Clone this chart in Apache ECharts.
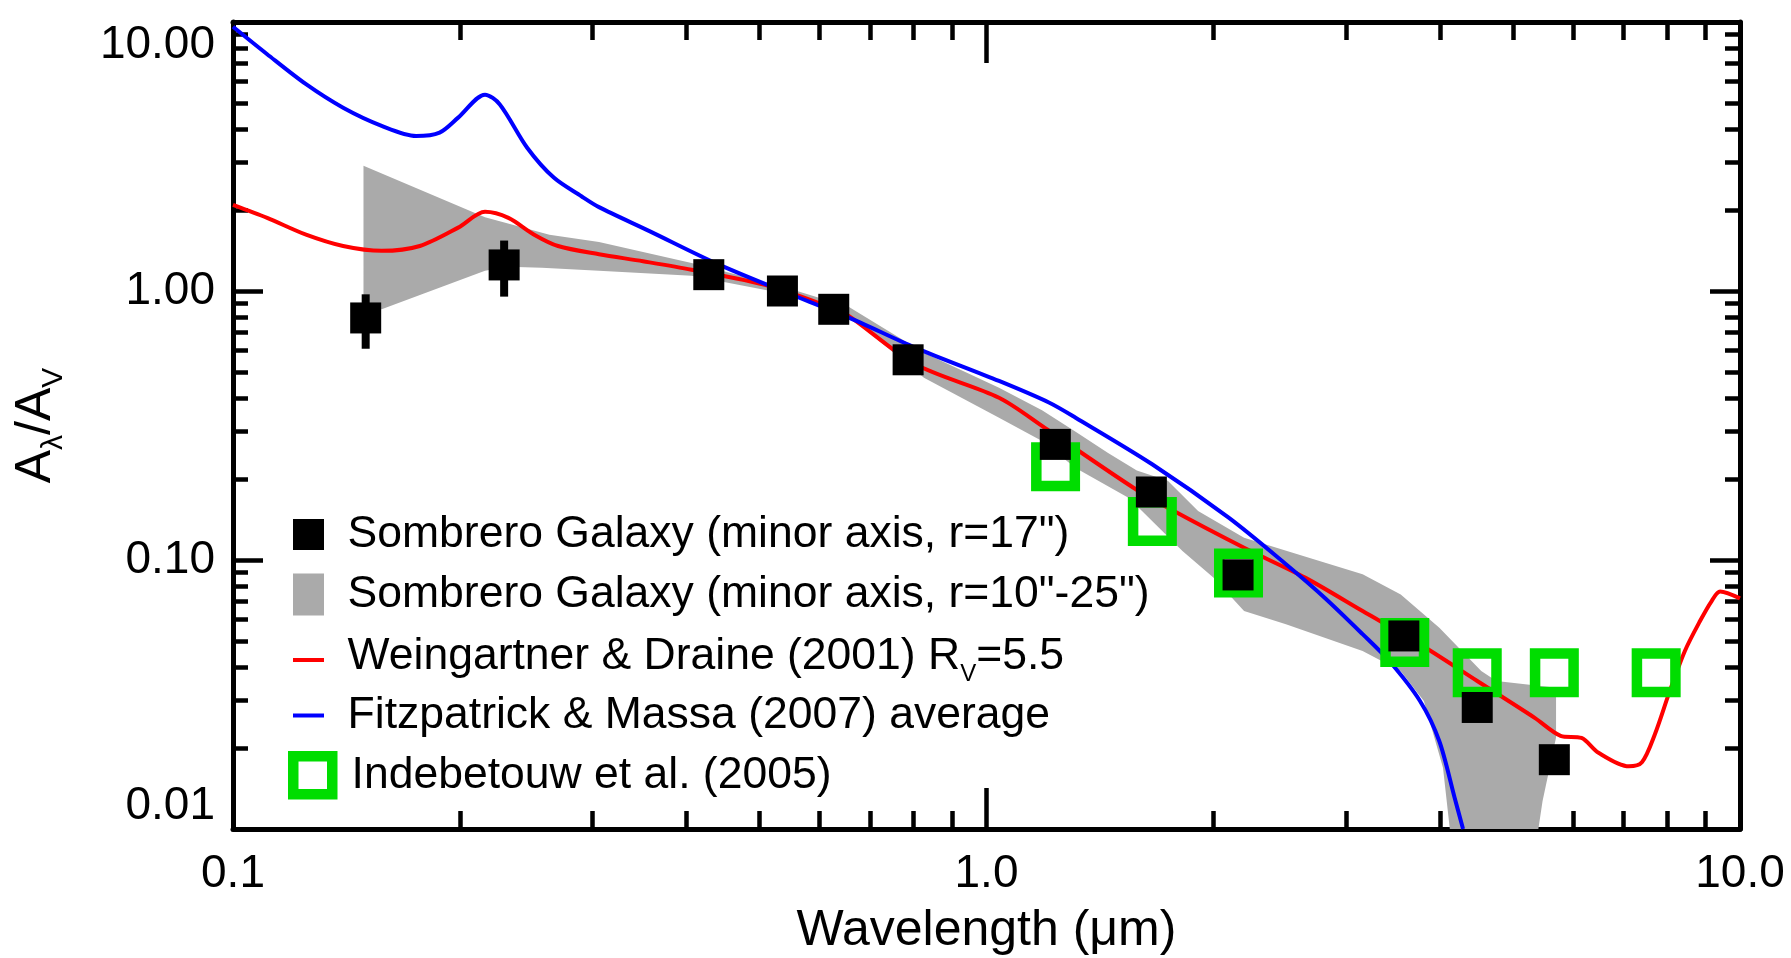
<!DOCTYPE html>
<html>
<head>
<meta charset="utf-8">
<title>Sombrero extinction curve</title>
<script src="https://cdn.jsdelivr.net/npm/echarts@6/dist/echarts.min.js"></script>
<style>
  html, body { margin: 0; padding: 0; background: #fff; }
  #chart { width: 1791px; height: 958px; }
</style>
</head>
<body>
<div id="chart"></div>
<script>
// values: wavelength (um) -> A_lambda / A_V

// Sombrero Galaxy, minor axis r=17"
var sombreroX = [0.15, 0.229, 0.428, 0.536, 0.627, 0.787, 1.234, 1.655, 2.157, 3.58, 4.48, 5.67];
var sombreroY = [0.794, 1.25, 1.15, 1.00, 0.855, 0.555, 0.269, 0.179, 0.088, 0.0522, 0.0283, 0.0181];

// error bars on the two UV points
var errX = [0.15, 0.229];
var errLow = [0.61, 0.953];
var errHigh = [0.972, 1.54];

// Indebetouw et al. (2005)
var indebX = [1.235, 1.66, 2.16, 3.59, 4.48, 5.67, 7.74];
var indebY = [0.222, 0.139, 0.0895, 0.0493, 0.0381, 0.0381, 0.0381];

// Weingartner & Draine (2001) Rv=5.5
var wdX = [0.1, 0.111, 0.125, 0.14, 0.1575, 0.177, 0.199, 0.216, 0.232, 0.251, 0.27, 0.306, 0.35, 0.406,
  0.514, 0.627, 0.657, 0.805, 1.039, 1.195, 1.565, 1.758, 2.197, 2.647, 3.156, 3.761, 4.48, 5.34, 5.78,
  6.16, 6.49, 7.12, 7.41, 7.71, 8.07, 8.45, 8.85, 9.17, 9.41, 10.0];
var wdY = [2.09, 1.87, 1.62, 1.47, 1.41, 1.47, 1.72, 1.97, 1.87, 1.62, 1.47, 1.37, 1.29, 1.20,
  1.045, 0.86, 0.807, 0.534, 0.401, 0.31, 0.186, 0.154, 0.111, 0.086, 0.0646, 0.0486, 0.0355, 0.0259, 0.0222,
  0.0218, 0.0192, 0.0171, 0.0177, 0.0225, 0.0326, 0.0459, 0.0593, 0.0704, 0.0764, 0.072];

// Fitzpatrick & Massa (2007) average
var fmX = [0.1, 0.111, 0.125, 0.14, 0.1575, 0.175, 0.188, 0.199, 0.216, 0.226, 0.2457, 0.2665, 0.29, 0.306,
  0.357, 0.437, 0.536, 0.657, 0.805, 1.039, 1.21, 1.313, 1.659, 2.096, 2.497, 2.81, 3.156, 3.424, 3.761,
  3.99, 4.18, 4.29];
var fmY = [9.6, 7.59, 5.87, 4.80, 4.11, 3.77, 3.88, 4.41, 5.37, 4.94, 3.41, 2.64, 2.25, 2.05,
  1.67, 1.27, 1.0, 0.796, 0.615, 0.463, 0.385, 0.338, 0.227, 0.1436, 0.0964, 0.0724, 0.053, 0.0421, 0.0299,
  0.0212, 0.0131, 0.01];

// Sombrero Galaxy, minor axis r=10"-25" (shaded range)
var bandUpperX = [0.149, 0.216, 0.263, 0.306, 0.406, 0.43, 0.536, 0.657, 0.826, 1.039, 1.185, 1.313, 1.45,
  1.583, 1.74, 1.909, 2.197, 2.587, 3.156, 3.546, 3.99, 4.535, 4.75, 5.70, 5.70, 5.47, 5.40];
var bandUpperY = [2.92, 1.88, 1.62, 1.52, 1.27, 1.22, 1.04, 0.872, 0.59, 0.437, 0.36, 0.30, 0.25,
  0.215, 0.197, 0.152, 0.121, 0.105, 0.0885, 0.0745, 0.056, 0.0387, 0.0355, 0.0335, 0.0219, 0.0127, 0.01];
var bandLowerX = [0.149, 0.1575, 0.216, 0.232, 0.257, 0.306, 0.406, 0.536, 0.657, 0.826, 1.039, 1.185, 1.313,
  1.545, 1.82, 2.0, 2.197, 2.497, 3.156, 3.546, 3.806, 4.035, 4.12];
var bandLowerY = [0.88, 0.855, 1.19, 1.23, 1.22, 1.19, 1.14, 0.98, 0.807, 0.476, 0.338, 0.277, 0.220,
  0.17, 0.108, 0.086, 0.0646, 0.0577, 0.0459, 0.0387, 0.0299, 0.0169, 0.01];

// tick values
var xMajorTicks = [0.1, 1, 10];
var xMinorTicks = [0.2, 0.3, 0.4, 0.5, 0.6, 0.7, 0.8, 0.9, 2, 3, 4, 5, 6, 7, 8, 9];
var yMajorTicks = [0.01, 0.1, 1, 10];
var yMinorTicks = [0.02, 0.03, 0.04, 0.05, 0.06, 0.07, 0.08, 0.09,
  0.2, 0.3, 0.4, 0.5, 0.6, 0.7, 0.8, 0.9, 2, 3, 4, 5, 6, 7, 8, 9];

var nameSquares = 'Sombrero Galaxy (minor axis, r=17")';
var nameBand = 'Sombrero Galaxy (minor axis, r=10"-25")';
var nameWD = 'Weingartner & Draine (2001) RV=5.5';
var nameFM = 'Fitzpatrick & Massa (2007) average';
var nameIndeb = 'Indebetouw et al. (2005)';

function zip(xs, ys) {
  return xs.map(function (x, i) { return [x, ys[i]]; });
}

var bandPoly = zip(bandUpperX, bandUpperY).concat(zip(bandLowerX, bandLowerY).reverse());

var FONT = 'Liberation Sans';
var chartDom = document.getElementById('chart');
var myChart = echarts.init(chartDom, null, { renderer: 'canvas' });

function xAxis(gridIndex, position, ticks, len, withLabels) {
  return {
    type: 'log', logBase: 10, min: 0.1, max: 10,
    gridIndex: gridIndex, position: position,
    name: withLabels ? 'Wavelength (μm)' : '',
    nameLocation: 'middle', nameGap: 77,
    nameTextStyle: { fontSize: 50, color: '#000', fontFamily: FONT },
    axisLine: { show: gridIndex === 0, onZero: false, lineStyle: { color: '#000', width: 5 } },
    axisTick: { show: true, inside: true, length: len, customValues: ticks,
      lineStyle: { color: '#000', width: 4.5 } },
    axisLabel: { show: withLabels, customValues: xMajorTicks, margin: 22,
      fontSize: 46, color: '#000', fontFamily: FONT,
      formatter: function (v) { return Number(v).toFixed(1); } },
    splitLine: { show: false }
  };
}

function yAxis(gridIndex, position, ticks, len, withLabels) {
  return {
    type: 'log', logBase: 10, min: 0.01, max: 10,
    gridIndex: gridIndex, position: position,
    name: withLabels ? '{a|A}{s|λ}{a|/A}{s|V}' : '',
    nameLocation: 'middle', nameRotate: 90, nameGap: 164,
    nameTextStyle: {
      rich: {
        a: { fontSize: 50, color: '#000', fontFamily: FONT, verticalAlign: 'top' },
        s: { fontSize: 30, color: '#000', fontFamily: FONT, verticalAlign: 'bottom', lineHeight: 58 }
      }
    },
    axisLine: { show: gridIndex === 0, onZero: false, lineStyle: { color: '#000', width: 5 } },
    axisTick: { show: true, inside: true, length: len, customValues: ticks,
      lineStyle: { color: '#000', width: 4.5 } },
    axisLabel: { show: withLabels, customValues: yMajorTicks, margin: 18,
      fontSize: 46, color: '#000', fontFamily: FONT,
      verticalAlignMinLabel: 'bottom', verticalAlignMaxLabel: 'top',
      formatter: function (v) { return Number(v).toFixed(2); } },
    splitLine: { show: false }
  };
}

function legendBox(name, top, iconW, iconH, left, textPad, itemStyle, formatter) {
  var lg = {
    data: [name], orient: 'vertical', left: left, top: top, padding: 0,
    icon: 'rect', itemWidth: iconW, itemHeight: iconH,
    selectedMode: false,
    itemStyle: itemStyle,
    textStyle: { fontSize: 44.5, color: '#000', fontFamily: FONT, padding: [0, 0, 0, textPad],
      rich: {
        t: { fontSize: 44.5, color: '#000', fontFamily: FONT, verticalAlign: 'top' },
        s: { fontSize: 24, color: '#000', fontFamily: FONT, verticalAlign: 'bottom', lineHeight: 52 }
      } }
  };
  if (formatter) lg.formatter = formatter;
  return lg;
}

var option = {
  animation: false,
  backgroundColor: '#fff',
  textStyle: { fontFamily: FONT },
  grid: [
    { left: 233, right: 51, top: 22, bottom: 129, containLabel: false, outerBoundsMode: 'none' },
    { left: 233, right: 51, top: 22, bottom: 129, containLabel: false, outerBoundsMode: 'none' }
  ],
  xAxis: [
    xAxis(0, 'bottom', xMajorTicks, 41, true),
    xAxis(0, 'top', xMajorTicks, 41, false),
    xAxis(1, 'bottom', xMinorTicks, 18, false),
    xAxis(1, 'top', xMinorTicks, 18, false)
  ],
  yAxis: [
    yAxis(0, 'left', yMajorTicks, 30, true),
    yAxis(0, 'right', yMajorTicks, 30, false),
    yAxis(1, 'left', yMinorTicks, 15, false),
    yAxis(1, 'right', yMinorTicks, 15, false)
  ],
  legend: [
    legendBox(nameSquares, 512, 31, 31, 293, 18.6, { borderWidth: 0 }),
    legendBox(nameBand, 572, 31, 42, 293, 18.6, { borderWidth: 0 }),
    legendBox(nameWD, 634, 31, 4, 293, 18.6, { borderWidth: 0 },
      function () { return '{t|Weingartner & Draine (2001) R}{s|V}{t|=5.5}'; }),
    legendBox(nameFM, 693, 31, 4, 293, 18.6, { borderWidth: 0 }),
    legendBox(nameIndeb, 751, 39, 38, 288, 14.3,
      { color: 'rgba(0,0,0,0)', borderColor: '#00dd00', borderWidth: 10.5, opacity: 1 })
  ],
  series: [
    {
      name: nameBand,
      type: 'custom',
      xAxisIndex: 0, yAxisIndex: 0,
      z: 1,
      itemStyle: { color: '#aaaaaa' },
      encode: { x: 0, y: 1 },
      data: bandPoly,
      renderItem: function (params, api) {
        if (params.dataIndex !== 0) return null;
        var pts = bandPoly.map(function (p) { return api.coord(p); });
        return { type: 'polygon', shape: { points: pts }, style: { fill: '#aaaaaa' } };
      }
    },
    {
      name: nameWD,
      type: 'line',
      z: 2,
      smooth: 0.3,
      symbol: 'none',
      color: '#ff0000',
      lineStyle: { color: '#ff0000', width: 4 },
      data: zip(wdX, wdY)
    },
    {
      name: nameFM,
      type: 'line',
      z: 2,
      smooth: 0.3,
      symbol: 'none',
      color: '#0000ff',
      lineStyle: { color: '#0000ff', width: 4 },
      data: zip(fmX, fmY)
    },
    {
      name: nameIndeb,
      type: 'scatter',
      z: 3,
      symbol: 'rect',
      symbolSize: 38.5,
      itemStyle: { color: 'rgba(0,0,0,0)', borderColor: '#00dd00', borderWidth: 10.5, opacity: 1 },
      data: zip(indebX, indebY)
    },
    {
      name: 'error bars',
      type: 'custom',
      z: 4,
      encode: { x: 0, y: [1, 2] },
      data: errX.map(function (x, i) { return [x, errLow[i], errHigh[i]]; }),
      renderItem: function (params, api) {
        var lo = api.coord([api.value(0), api.value(1)]);
        var hi = api.coord([api.value(0), api.value(2)]);
        return { type: 'line', shape: { x1: lo[0], y1: lo[1], x2: hi[0], y2: hi[1] },
          style: { stroke: '#000', lineWidth: 8 } };
      }
    },
    {
      name: nameSquares,
      type: 'scatter',
      z: 5,
      symbol: 'rect',
      symbolSize: 31,
      itemStyle: { color: '#000', opacity: 1 },
      data: zip(sombreroX, sombreroY)
    }
  ]
};

option && myChart.setOption(option);
</script>
</body>
</html>
